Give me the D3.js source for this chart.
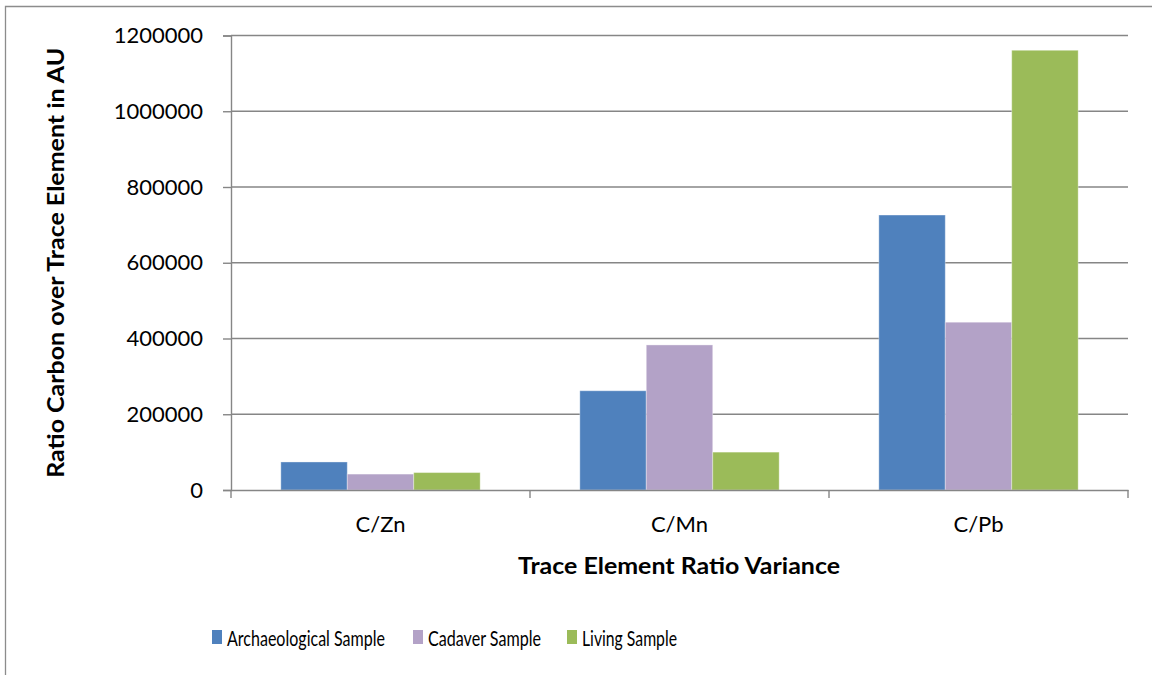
<!DOCTYPE html>
<html>
<head>
<meta charset="utf-8">
<script src="https://cdn.jsdelivr.net/npm/d3@7"></script>
<style>
  body { margin: 0; background: #fff; }
  svg { display: block; font-family: Lato, "Open Sans", sans-serif; }
</style>
</head>
<body>
<div id="chart"></div>
<script>
// data
var categories = ["C/Zn", "C/Mn", "C/Pb"];
var seriesNames = ["Archaeological Sample", "Cadaver Sample", "Living Sample"];
var archaeological = [74000, 262000, 726000];
var cadaver = [42000, 383000, 443000];
var living = [46000, 100000, 1161000];
var yTicks = [0, 200000, 400000, 600000, 800000, 1000000, 1200000];
var colors = ["#4f81bd", "#b3a2c7", "#9bbb59"];

var width = 1152, height = 675;
var plotLeft = 231, plotRight = 1128, plotTop = 35.5, plotBottom = 490;

var svg = d3.select("#chart").append("svg")
    .attr("width", width)
    .attr("height", height);

// outer chart frame (only top and left edges show)
svg.append("path")
    .attr("d", "M5.5,675 V6.5 H1152")
    .attr("fill", "none")
    .attr("stroke", "#8c8c8c")
    .attr("stroke-width", 1.3);

var x = d3.scaleBand().domain(categories).range([plotLeft, plotRight]);
var y = d3.scaleLinear().domain([0, 1200000]).range([plotBottom, plotTop]);
var inner = d3.scaleBand().domain(seriesNames)
    .range([0, x.bandwidth()])
    .paddingInner(0)
    .paddingOuter(0.75);

// gridlines
svg.append("g").selectAll("line")
    .data(yTicks.slice(1))
    .enter().append("line")
    .attr("x1", plotLeft).attr("x2", plotRight)
    .attr("y1", function(d) { return y(d); })
    .attr("y2", function(d) { return y(d); })
    .attr("stroke", "#868686")
    .attr("stroke-width", 1.4);

// bars
var allSeries = [archaeological, cadaver, living];
var groups = svg.append("g").selectAll("g")
    .data(categories)
    .enter().append("g")
    .attr("transform", function(d) { return "translate(" + x(d) + ",0)"; });

groups.selectAll("rect")
    .data(function(d, ci) {
        return seriesNames.map(function(s, si) {
            return { name: s, value: allSeries[si][ci], color: colors[si] };
        });
    })
    .enter().append("rect")
    .attr("x", function(d) { return inner(d.name); })
    .attr("width", inner.bandwidth())
    .attr("y", function(d) { return y(d.value); })
    .attr("height", function(d) { return plotBottom - y(d.value); })
    .attr("fill", function(d) { return d.color; })
    .attr("stroke", "rgba(255,255,255,0.35)")
    .attr("stroke-width", 1);

// y axis
var yAxis = svg.append("g")
    .attr("transform", "translate(" + plotLeft + ",0)")
    .call(d3.axisLeft(y).tickValues(yTicks).tickFormat(d3.format("d")).tickSize(8).tickPadding(20));
yAxis.select(".domain").attr("stroke", "#868686").attr("stroke-width", 1.4);
yAxis.selectAll(".tick line").attr("stroke", "#868686").attr("stroke-width", 1.4);
yAxis.selectAll("text").attr("font-size", 22).attr("fill", "#000").attr("font-family", "Lato");

// x axis
var xAxis = svg.append("g")
    .attr("transform", "translate(0," + plotBottom + ")")
    .call(d3.axisBottom(x).tickSize(0).tickPadding(26));
xAxis.select(".domain").attr("stroke", "#868686").attr("stroke-width", 1.4);
xAxis.selectAll("text").attr("font-size", 22).attr("fill", "#000").attr("font-family", "Lato");

// category separators on x axis
svg.append("g").selectAll("line")
    .data(d3.range(categories.length + 1))
    .enter().append("line")
    .attr("x1", function(i) { return plotLeft + i * x.step(); })
    .attr("x2", function(i) { return plotLeft + i * x.step(); })
    .attr("y1", plotBottom).attr("y2", plotBottom + 8)
    .attr("stroke", "#868686")
    .attr("stroke-width", 1.4);

// axis titles
svg.append("text")
    .attr("x", 679)
    .attr("y", 574)
    .attr("text-anchor", "middle")
    .attr("font-size", 22)
    .attr("font-weight", "bold")
    .attr("textLength", 322)
    .attr("lengthAdjust", "spacingAndGlyphs")
    .text("Trace Element Ratio Variance");

svg.append("text")
    .attr("transform", "translate(64," + ((plotTop + plotBottom) / 2) + ") rotate(-90)")
    .attr("text-anchor", "middle")
    .attr("font-size", 22)
    .attr("font-weight", "bold")
    .attr("textLength", 430)
    .attr("lengthAdjust", "spacingAndGlyphs")
    .text("Ratio Carbon over Trace Element in AU");

// legend
var legendX = [212, 413, 567];
var legendW = [158, 113, 95];
var legend = svg.append("g").selectAll("g")
    .data(seriesNames)
    .enter().append("g")
    .attr("transform", function(d, i) { return "translate(" + legendX[i] + ",630)"; });
legend.append("rect")
    .attr("width", 10).attr("height", 14)
    .attr("fill", function(d, i) { return colors[i]; });
legend.append("text")
    .attr("x", 15).attr("y", 15.5)
    .attr("font-size", 22)
    .attr("textLength", function(d, i) { return legendW[i]; })
    .attr("lengthAdjust", "spacingAndGlyphs")
    .text(function(d) { return d; });
</script>
</body>
</html>
